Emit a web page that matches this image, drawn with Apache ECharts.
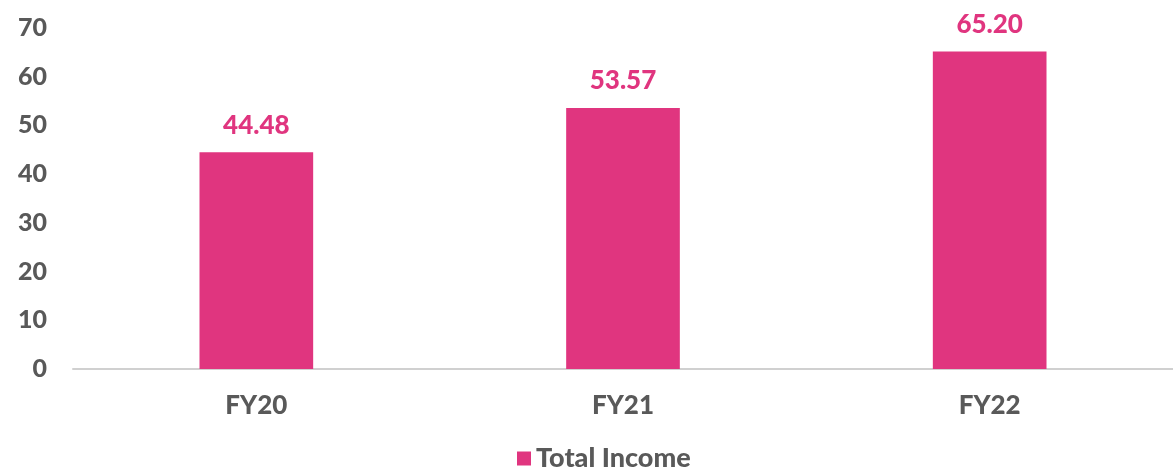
<!DOCTYPE html>
<html>
<head>
<meta charset="utf-8">
<script src="https://cdn.jsdelivr.net/npm/echarts@6/dist/echarts.min.js"></script>
<style>
  html, body { margin: 0; padding: 0; background: #fff; }
  #chart { width: 1173px; height: 467px; }
</style>
</head>
<body>
<div id="chart"></div>
<script>
const categories = ['FY20', 'FY21', 'FY22'];
const totalIncome = [44.48, 53.57, 65.20];
const yTicks = [0, 10, 20, 30, 40, 50, 60, 70];

const pink = '#E0357F';
const grey = '#595959';
const font = 'Lato, "DejaVu Sans", sans-serif';

const myChart = echarts.init(document.getElementById('chart'));
myChart.setOption({
  animation: false,
  textStyle: { fontFamily: font },
  grid: { left: 73, top: 28, width: 1108, height: 341 },
  legend: {
    data: ['Total Income'],
    top: 440,
    left: 512,
    icon: 'rect',
    itemWidth: 14,
    itemHeight: 14,
    itemGap: 8,
    textStyle: { color: grey, fontSize: 27, fontWeight: 900, fontFamily: font }
  },
  xAxis: {
    type: 'category',
    data: categories,
    axisLine: { lineStyle: { color: '#d0d0d0', width: 2 } },
    axisTick: { show: false },
    axisLabel: { color: grey, fontSize: 26, fontWeight: 900, margin: 24 }
  },
  yAxis: {
    type: 'value',
    min: yTicks[0],
    max: yTicks[yTicks.length - 1],
    interval: 10,
    splitLine: { show: false },
    axisLine: { show: false },
    axisTick: { show: false },
    axisLabel: { color: grey, fontSize: 25, fontWeight: 900, margin: 26 }
  },
  series: [{
    name: 'Total Income',
    type: 'bar',
    data: totalIncome,
    barWidth: '31%',
    itemStyle: { color: pink },
    label: {
      show: true,
      position: 'top',
      distance: 14,
      color: pink,
      fontSize: 26,
      fontWeight: 900,
      formatter: p => p.value.toFixed(2)
    }
  }]
});
</script>
</body>
</html>
